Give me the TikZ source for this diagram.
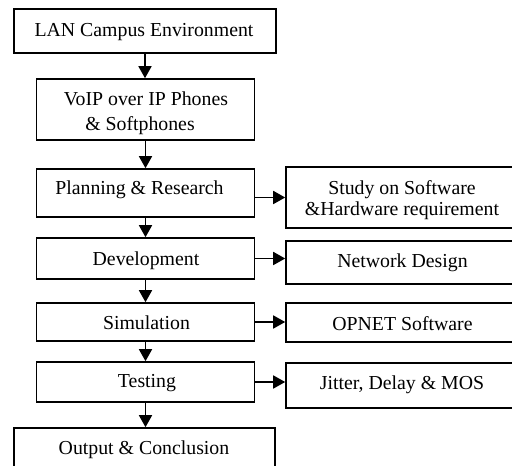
\documentclass[tikz,border=0pt]{standalone}
\usepackage{fontspec}
\setmainfont{Liberation Serif}
\usetikzlibrary{arrows.meta}
\begin{document}
\begin{tikzpicture}[x=1pt,y=1pt,
  box/.style={draw, line width=1.6pt, inner sep=0pt},
  txt/.style={anchor=base, inner sep=0pt, font=\fontsize{19.8}{23}\selectfont},
  arr/.style={line width=1.7pt, -{Triangle[length=12pt,width=13pt]}}]
\useasboundingbox (0,0) rectangle (512,466);
\clip (0,0) rectangle (512,466);
% left column boxes
\node[box, minimum width=262pt, minimum height=44pt] (b1) at (145,435) {};
\node[box, minimum width=218pt, minimum height=61pt] (b2) at (145.5,356.5) {};
\node[box, minimum width=218pt, minimum height=48pt] (b3) at (145.5,273) {};
\node[box, minimum width=218pt, minimum height=41pt] (b4) at (145.5,207.5) {};
\node[box, minimum width=218pt, minimum height=38pt] (b5) at (145.5,144) {};
\node[box, minimum width=218pt, minimum height=40pt] (b6) at (145.5,84) {};
\node[box, minimum width=261pt, minimum height=53pt] (b7) at (144.5,11.5) {};
% right column boxes
\node[box, minimum width=232pt, minimum height=61pt] (r1) at (402,268.5) {};
\node[box, minimum width=232pt, minimum height=43pt] (r2) at (402,203.5) {};
\node[box, minimum width=232pt, minimum height=39pt] (r3) at (402,143.5) {};
\node[box, minimum width=232pt, minimum height=45pt] (r4) at (402,80.5) {};
% texts
\node[txt] (t1) at (144,429) {LAN Campus Environment};
\node[txt] (t2a) at (146,360) {VoIP over IP Phones};
\node[txt] (t2b) at (140,335) {\& Softphones};
\node[txt] (t3) at (139.5,271) {Planning \& Research};
\node[txt] (t4) at (146,200) {Development};
\node[txt] (t5) at (146.5,136) {Simulation};
\node[txt] (t6) at (147,78) {Testing};
\node[txt] (t7) at (144,11) {Output \& Conclusion};
\node[txt] (r1a) at (402,271) {Study on Software};
\node[txt] (r1b) at (402,250) {\&Hardware requirement};
\node[txt] (r2t) at (402.5,198) {Network Design};
\node[txt] (r3t) at (402.5,135) {OPNET Software};
\node[txt] (r4t) at (402,76) {Jitter, Delay \& MOS};
% vertical arrows
\draw[arr] (b1.south) -- (b1.south |- b2.north);
\draw[arr] (b2.south) -- (b3.north);
\draw[arr] (b3.south) -- (b4.north);
\draw[arr] (b4.south) -- (b5.north);
\draw[arr] (b5.south) -- (b6.north);
\draw[arr] (b6.south) -- (b6.south |- b7.north);
% horizontal arrows
\draw[arr] (b3.east |- r1.west) -- (r1.west);
\draw[arr] (b4.east) -- (b4.east -| r2.west);
\draw[arr] (b5.east) -- (b5.east -| r3.west);
\draw[arr] (b6.east) -- (b6.east -| r4.west);
\end{tikzpicture}
\end{document}
